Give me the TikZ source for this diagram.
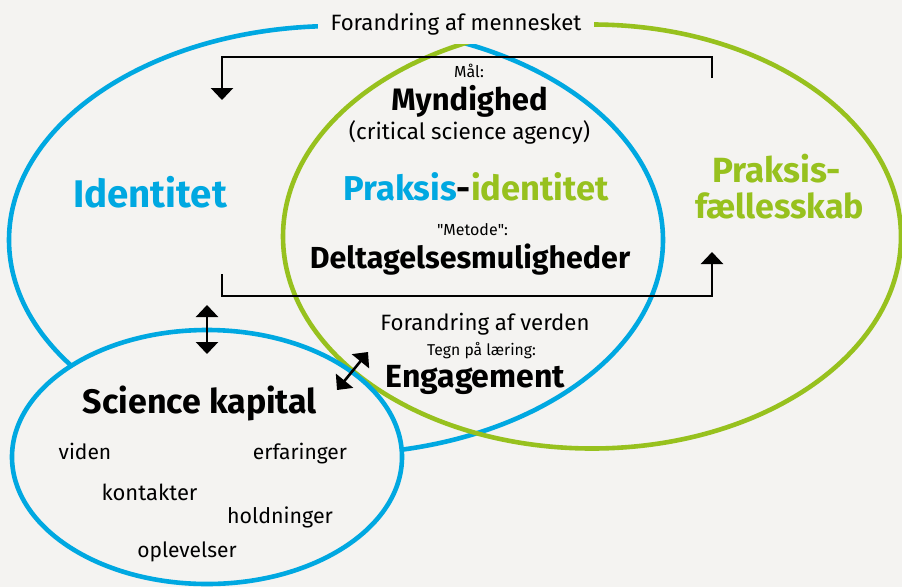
\documentclass[tikz,border=0pt]{standalone}
\usepackage{fontspec}
\setmainfont{Fira Sans}
\newfontfamily\plainfira{Fira Sans}
\usetikzlibrary{arrows.meta}
\definecolor{bg}{HTML}{F4F3F1}
\definecolor{cblue}{HTML}{00A8E1}
\definecolor{cgreen}{HTML}{97C11E}
\begin{document}
\begin{tikzpicture}[x=1pt,y=-1pt,
  ring/.style={line width=4.6pt},
  blk/.style={black,line width=2.6pt,line join=miter},
  tip/.style={-{Triangle[width=22pt,length=12pt]}},
  dtip/.style={{Triangle[width=22pt,length=12pt]}-{Triangle[width=22pt,length=12pt]}},
  txt/.style={anchor=base,inner sep=0pt,font=\fontsize{#1}{#1}\selectfont},
  btxt/.style={anchor=base,inner sep=0pt,font=\fontsize{#1}{#1}\selectfont\bfseries}]
\fill[bg] (0,0) rectangle (902,587);
\useasboundingbox (0,0) rectangle (902,587);
% rings
\draw[ring,cblue] (336,240) ellipse [x radius=327, y radius=214];
\draw[ring,cgreen] (592,236.5) ellipse [x radius=309, y radius=212];
\draw[ring,cblue,fill=bg] (207,457) ellipse [x radius=195, y radius=127];
% top label with gap
\fill[bg] (318,0) rectangle (594,44);
\node[txt=22.2] (top) at (456,30) {Forandring af mennesket};
% brackets
\coordinate (ms) at (712,78);
\coordinate (me) at (222,100);
\draw[blk,tip] (ms) -- ++(0,-21) -| (me);
\coordinate (vs) at (222,274);
\coordinate (ve) at (712,252);
\draw[blk,tip] (vs) -- ++(0,22) -| (ve);
% double arrows
\coordinate (da1) at (207,305);
\coordinate (da2) at (207,354);
\draw[blk,dtip] (da1) -- (da2);
\coordinate (db1) at (337,390);
\coordinate (db2) at (368,352);
\draw[blk,dtip] (db1) -- (db2);
% texts
\node[txt=16] (maal) at (469,77) {Mål:};
\node[btxt=31] (mynd) at (469.5,110) {Myndighed};
\node[txt=22.4] (csa) at (469.5,139) {(critical science agency)};
\node[btxt=34.5] (pi) at (476,200) {\textcolor{cblue}{Praksis}-\textcolor{cgreen}{identitet}};
\node[btxt=38.5,text=cblue] (id) at (150,207) {Identitet};
\node[btxt=35,text=cgreen] (pf1) at (776.5,182) {Praksis-};
\node[btxt=34,text=cgreen] (pf2) at (779.5,218) {fællesskab};
\node[txt=16] (met) at (472.5,235) {{\plainfira"}Metode{\plainfira"}:};
\node[btxt=30.4] (delt) at (470,268) {Deltagelsesmuligheder};
\node[txt=22.2] (fav) at (485,330) {Forandring af verden};
\node[txt=15.7] (tpl) at (481.5,355) {Tegn på læring:};
\node[btxt=32] (eng) at (475.5,387) {Engagement};
\node[btxt=34] (sk) at (200,413) {Science kapital};
\node[txt=21] (vid) at (85,459) {viden};
\node[txt=21] (erf) at (300,459) {erfaringer};
\node[txt=22] (kon) at (149.5,500) {kontakter};
\node[txt=21.4] (hol) at (280,523) {holdninger};
\node[txt=21] (opl) at (187,557) {oplevelser};
\end{tikzpicture}
\end{document}
